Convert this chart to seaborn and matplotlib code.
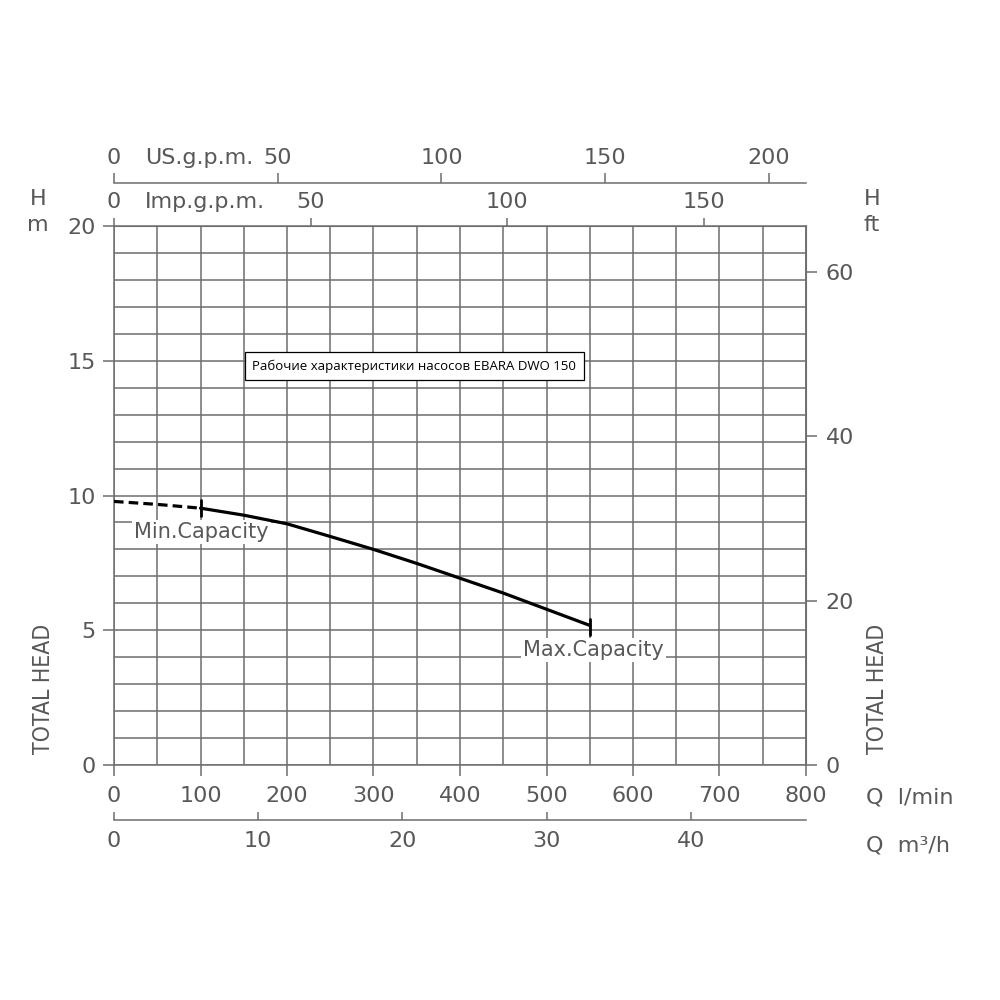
import numpy as np
import matplotlib
matplotlib.use('Agg')
import matplotlib.pyplot as plt
import seaborn as sns

# pump curve (Q in l/min, H in m)
q_dashed = [0, 50, 100]
h_dashed = [9.78, 9.67, 9.53]
q_solid = [100, 150, 200, 250, 300, 350, 400, 450, 500, 550]
h_solid = [9.53, 9.27, 8.95, 8.48, 8.0, 7.48, 6.93, 6.38, 5.78, 5.18]

q_ticks = [0, 100, 200, 300, 400, 500, 600, 700, 800]
h_ticks = [0, 5, 10, 15, 20]
ft_ticks = [0, 20, 40, 60]
usgpm_ticks = [0, 50, 100, 150, 200]
impgpm_ticks = [0, 50, 100, 150]
m3h_ticks = [0, 10, 20, 30, 40]

q_min, q_max = 100, 550
title = 'Рабочие характеристики насосов EBARA DWO 150'

US_GAL = 3.785411784
IMP_GAL = 4.54609
FT = 0.3048

TXT = '#585858'
GRID = '#6e6e6e'


def main():
  sns.set_style('white')
  plt.rcParams['font.family'] = ['DejaVu Sans']
  matplotlib.rc('font', size=15)

  fig = plt.figure(figsize=(10, 10), dpi=100)
  ax = fig.add_axes([0.114, 0.235, 0.692, 0.539])

  sns.lineplot(x=q_dashed, y=h_dashed, ax=ax, color='black', lw=2.3,
               linestyle=(0, (3, 1.6)), zorder=5)
  sns.lineplot(x=q_solid, y=h_solid, ax=ax, color='black', lw=2.3, zorder=5)

  # min / max capacity markers
  ax.plot([q_min, q_min], [h_solid[0] - 0.3, h_solid[0] + 0.3], color='black', lw=2, zorder=5)
  ax.plot([q_max, q_max], [h_solid[-1] - 0.35, h_solid[-1] + 0.25], color='black', lw=2, zorder=5)

  ax.set_xlim(0, 800)
  ax.set_ylim(0, 20)
  ax.set_xticks(q_ticks)
  ax.set_yticks(h_ticks)
  ax.set_xticks(np.arange(0, 801, 50), minor=True)
  ax.set_yticks(np.arange(0, 21, 1), minor=True)
  ax.grid(which='both', color=GRID, lw=1.1)
  ax.set_axisbelow(True)
  for s in ax.spines.values():
    s.set_color(GRID)
    s.set_linewidth(1.1)
  ax.tick_params(which='minor', length=0)
  ax.tick_params(axis='x', which='major', direction='out', length=8, width=1.1,
                 color=GRID, labelcolor=TXT, pad=7, labelsize=16, bottom=True)
  ax.tick_params(axis='y', which='major', direction='out', length=8, width=1.1,
                 color=GRID, labelcolor=TXT, pad=5, labelsize=16, left=True)

  # right axis: feet
  ax_ft = ax.secondary_yaxis('right', functions=(lambda m: m / FT, lambda f: f * FT))
  ax_ft.set_yticks(ft_ticks)
  ax_ft.tick_params(direction='out', length=8, width=1.1, color=GRID,
                    labelcolor=TXT, pad=6, labelsize=16)
  ax_ft.spines['right'].set_color(GRID)

  # top axis: imp gpm
  ax_imp = ax.secondary_xaxis('top', functions=(lambda q: q / IMP_GAL, lambda g: g * IMP_GAL))
  ax_imp.set_xticks(impgpm_ticks)
  ax_imp.tick_params(direction='out', length=6, width=1.1, color=GRID,
                     labelcolor=TXT, pad=4, labelsize=16)
  ax_imp.spines['top'].set_color(GRID)

  # upper axis: US gpm
  ax_us = ax.secondary_xaxis(1.08, functions=(lambda q: q / US_GAL, lambda g: g * US_GAL))
  ax_us.set_xticks(usgpm_ticks)
  ax_us.tick_params(direction='out', length=7, width=1.1, color=GRID,
                    labelcolor=TXT, pad=4, labelsize=16)
  ax_us.spines['top'].set_color(GRID)
  ax_us.spines['top'].set_linewidth(1.1)

  # lower axis: m3/h
  ax_m3 = ax.secondary_xaxis(-0.102, functions=(lambda q: q * 0.06, lambda m: m / 0.06))
  ax_m3.set_xticks(m3h_ticks)
  ax_m3.tick_params(direction='in', length=6, width=1.1, color=GRID,
                    labelcolor=TXT, pad=8, labelsize=16)
  ax_m3.spines['bottom'].set_color(GRID)
  ax_m3.spines['bottom'].set_linewidth(1.1)

  # annotations
  box = dict(facecolor='white', edgecolor='none', pad=1.5)
  ax.text(23, 8.66, 'Min.Capacity', ha='left', va='center', color=TXT,
          fontsize=15, bbox=box, zorder=3)
  ax.text(473, 4.27, 'Max.Capacity', ha='left', va='center', color=TXT,
          fontsize=15, bbox=box, zorder=3)
  ax.text(347, 14.8, title, ha='center', va='center', color='black',
          fontsize=9.5, family=['Open Sans', 'DejaVu Sans'],
          bbox=dict(facecolor='white', edgecolor='black', lw=0.9, pad=5.5), zorder=6)

  # unit labels
  fig.text(0.145, 0.842, 'US.g.p.m.', color=TXT, fontsize=16, va='center')
  fig.text(0.145, 0.798, 'Imp.g.p.m.', color=TXT, fontsize=16, va='center')
  fig.text(0.038, 0.801, 'H', color=TXT, fontsize=16, ha='center', va='center')
  fig.text(0.038, 0.775, 'm', color=TXT, fontsize=16, ha='center', va='center')
  fig.text(0.872, 0.801, 'H', color=TXT, fontsize=16, ha='center', va='center')
  fig.text(0.872, 0.775, 'ft', color=TXT, fontsize=16, ha='center', va='center')
  fig.text(0.866, 0.202, 'Q  l/min', color=TXT, fontsize=16, va='center')
  fig.text(0.866, 0.155, 'Q  m³/h', color=TXT, fontsize=16, va='center')
  for x in (0.044, 0.878):
    fig.text(x, 0.311, 'TOTAL HEAD', color=TXT, fontsize=16.5, rotation=90,
             ha='center', va='center', family=['Liberation Sans Narrow', 'DejaVu Sans'],
             fontstretch='condensed')

  fig.savefig('out.png', dpi=100, facecolor='white')


if __name__ == '__main__':
  main()
